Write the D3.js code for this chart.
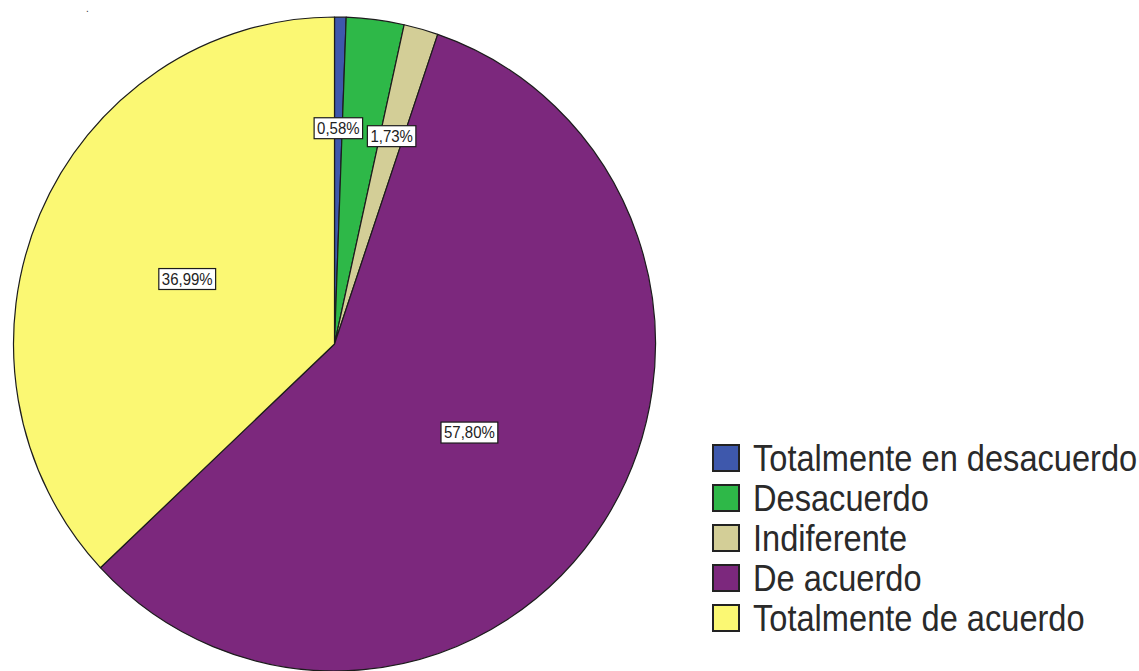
<!DOCTYPE html>
<html>
<head>
<meta charset="utf-8">
<script src="https://cdn.jsdelivr.net/npm/d3@7/dist/d3.min.js"></script>
<style>
  html, body { margin: 0; padding: 0; background: #ffffff; }
  svg { display: block; }
</style>
</head>
<body>
<svg id="chart" width="1139" height="671"></svg>
<script>
// Response categories and their shares (%)
const categories = [
  "Totalmente en desacuerdo",
  "Desacuerdo",
  "Indiferente",
  "De acuerdo",
  "Totalmente de acuerdo"
];
const percentages = [0.58, 2.90, 1.73, 57.80, 36.99];
// Slices that carry a value label
const labelled = [true, false, true, true, true];
const colors = ["#3e58ac", "#2eb848", "#d3ce97", "#7c287d", "#fbf873"];

const svg = d3.select("#chart");

// Pie geometry (slightly taller than wide)
const cx = 334.5, cy = 344, rx = 321, ry = 327;
const sy = ry / rx;

const data = categories.map((c, i) => ({ name: c, value: percentages[i], color: colors[i], labelled: labelled[i] }));

const pie = d3.pie().value(d => d.value).sort(null).startAngle(0).endAngle(2 * Math.PI);
const arcs = pie(data);
const arc = d3.arc().innerRadius(0).outerRadius(rx);

const g = svg.append("g").attr("transform", `translate(${cx},${cy}) scale(1,${sy})`);
g.selectAll("path")
  .data(arcs)
  .join("path")
  .attr("d", arc)
  .attr("fill", d => d.data.color)
  .attr("stroke", "#1c1c1c")
  .attr("stroke-width", 1.2)
  .attr("stroke-linejoin", "round")
  .attr("vector-effect", "non-scaling-stroke");

// Value labels: thin slices get pushed further out
const fmt = v => v.toFixed(2).replace(".", ",") + "%";
const labels = svg.append("g");
arcs.filter(d => d.data.labelled).forEach(d => {
  const mid = (d.startAngle + d.endAngle) / 2;
  const frac = d.data.value < 5 ? 0.66 : 0.5;
  const x = cx + Math.sin(mid) * rx * frac;
  const y = cy - Math.cos(mid) * ry * frac;
  const lg = labels.append("g").attr("transform", `translate(${x},${y})`);
  const t = lg.append("text")
    .attr("text-anchor", "middle")
    .attr("dominant-baseline", "central")
    .attr("transform", "scale(1,1.12)")
    .attr("font-family", "Liberation Sans, Arial, sans-serif")
    .attr("font-size", 15)
    .attr("fill", "#222")
    .text(fmt(d.data.value));
  const bb = t.node().getBBox();
  const h = bb.height * 1.12 + 3;
  lg.insert("rect", "text")
    .attr("x", bb.x - 3)
    .attr("y", -h / 2)
    .attr("width", bb.width + 6)
    .attr("height", h)
    .attr("fill", "#ffffff")
    .attr("stroke", "#1c1c1c")
    .attr("stroke-width", 1.2);
});

// Legend
const legend = svg.append("g").attr("transform", "translate(712,444)");
const rowH = 40;
const items = legend.selectAll("g")
  .data(data)
  .join("g")
  .attr("transform", (d, i) => `translate(0,${i * rowH})`);
items.append("rect")
  .attr("x", 1).attr("y", 1)
  .attr("width", 26).attr("height", 26)
  .attr("fill", d => d.color)
  .attr("stroke", "#222")
  .attr("stroke-width", 2);
items.append("text")
  .attr("transform", "translate(41,14) scale(1,1.12)")
  .attr("dominant-baseline", "central")
  .attr("font-family", "Liberation Sans, Arial, sans-serif")
  .attr("font-size", 32.6)
  .attr("fill", "#2a2a2a")
  .text(d => d.name);

// Small mark at the top left
svg.append("text")
  .attr("x", 86).attr("y", 12)
  .attr("font-family", "Liberation Sans, Arial, sans-serif")
  .attr("font-size", 10)
  .attr("fill", "#333")
  .text(".");
</script>
</body>
</html>
